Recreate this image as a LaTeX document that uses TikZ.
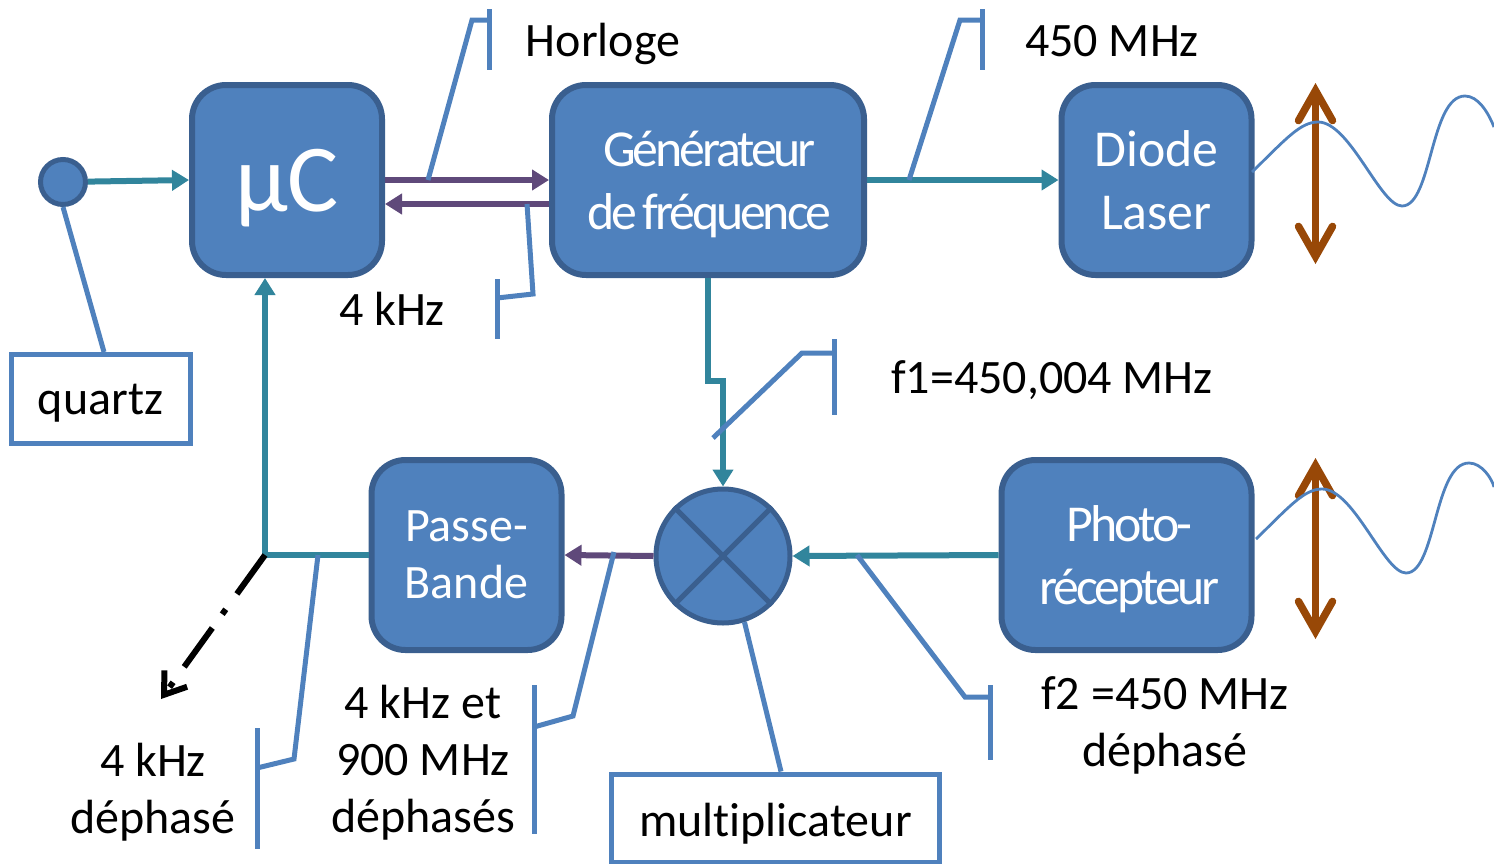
\documentclass[tikz,border=0pt]{standalone}
\usepackage{fontspec}
\setmainfont[Ligatures=NoCommon]{Carlito}
\newfontfamily\serre[LetterSpace=-6,WordSpace=0.6,Ligatures=NoCommon]{Carlito}
\usetikzlibrary{arrows.meta}
\usetikzlibrary{shapes}
\usetikzlibrary{positioning}
\definecolor{bleu}{HTML}{4F81BD}
\definecolor{bleuf}{HTML}{3A5F8F}
\definecolor{sarcelle}{HTML}{31859C}
\definecolor{violet}{HTML}{5F497A}
\definecolor{brun}{HTML}{984807}
\begin{document}
\begin{tikzpicture}[x=0.5pt,y=-0.5pt]
    \useasboundingbox (0,0) rectangle (1494,863);
    \tikzstyle{bloc}=[draw=bleuf,fill=bleu,line width=3pt,rounded corners=17pt,inner sep=0pt,text=white,align=center]
    \tikzstyle{boite}=[draw=bleu,fill=white,line width=2.5pt,inner sep=0pt,font=\fontsize{24pt}{28.5pt}\selectfont]
    \tikzstyle{texte}=[inner sep=0pt,align=center,font=\fontsize{24pt}{28.5pt}\selectfont]
    \tikzstyle{rond}=[circle,draw=bleuf,fill=bleu,line width=2.5pt,inner sep=0pt]
    \tikzstyle{liaison}=[color=sarcelle,line width=3pt,-{Triangle[length=8.5pt,width=10pt]}]
    \tikzstyle{bus}=[color=violet,line width=3pt,-{Triangle[length=8.5pt,width=10pt]}]
    \tikzstyle{renvoi}=[color=bleu,line width=2.5pt]
    \tikzstyle{lentille}=[color=brun,line width=3.75pt,{Straight Barb[length=15pt,width=17pt,line cap=round,line join=miter]}-{Straight Barb[length=15pt,width=17pt,line cap=round,line join=miter]}]
    \tikzstyle{onde}=[color=bleu,line width=1.4pt]

    \begin{scope}[minimum height=95pt]
      \node[bloc,minimum width=95pt,font=\fontsize{48pt}{50pt}\selectfont,text depth=-2pt] (uC)  at (287,180) {µC};
      \node[bloc,minimum width=156pt,font=\fontsize{25.9pt}{31.5pt}\serre,text depth=-1pt] (gen)  at (708,180) {\hspace*{1.5pt}Générateur\\\hspace*{1.5pt}de fréquence};
      \node[bloc,minimum width=95pt,font=\fontsize{25.9pt}{31.5pt}\selectfont] (laser)  at (1156.5,180) {Diode\\Laser};
      \node[bloc,minimum width=95pt,font=\fontsize{24pt}{28.5pt}\selectfont,text depth=-4pt] (filtre)  at (466.5,555) {Passe-\\Bande};
      \node[bloc,minimum width=125pt,font=\fontsize{25.9pt}{31.5pt}\serre,text depth=0pt] (photo)  at (1126.5,555) {\hspace*{3pt}Photo-\\\hspace*{3pt}récepteur};
    \end{scope}
    \node[rond,minimum size=22.5pt] (osc) at (63,182) {};
    \node[rond,minimum size=67pt] (mult) at (723,556) {};
    \draw[color=bleuf,line width=2.5pt] (mult.north west) -- (mult.south east);
    \draw[color=bleuf,line width=2.5pt] (mult.north east) -- (mult.south west);

    \node[boite,minimum width=89.5pt,minimum height=44.5pt,text depth=0pt] (quartz) at (100.5,399) {quartz};
    \node[boite,minimum width=164pt,minimum height=44pt,text height=22pt] (multi) at (775.5,818) {multiplicateur};

    \node[texte] (horloge) at (603,44) {Horloge};
    \node[texte] (f450) at (1112,41) {450 MHz};
    \node[texte] (f4) at (392,309) {4 kHz};
    \node[texte] (f1) at (1052,380) {f1=450,004 MHz};
    \node[texte] (f2) at (1165,725) {f2 =450 MHz\\déphasé};
    \node[texte] (somme) at (423,763) {4 kHz et\\900 MHz\\déphasés};
    \node[texte] (sortie) at (153,792) {4 kHz\\déphasé};

    \coordinate (coude) at (708,381);
    \coordinate (coude2) at (723,381);
    \coordinate (noeud) at (265,555);
    \coordinate (fin) at (161,699);

    \draw[liaison] (osc) -- (uC.west);
    \draw[bus] (uC.east) -- (gen.west);
    \draw[bus] ([yshift=-12pt]gen.west) -- ([yshift=-12pt]uC.east);
    \draw[liaison] (gen.east) -- (laser.west);
    \draw[liaison] (gen.south) -- (coude) -- (coude2) -- (mult.north);
    \draw[liaison] (photo.west) -- (mult.east);
    \draw[bus] (mult.west) -- (filtre.east);
    \draw[liaison] (filtre.west) -- (noeud) -- (uC.south -| noeud);
    \draw[line width=3pt,dash pattern=on 24pt off 9.5pt on 3pt off 8.5pt,-{Straight Barb[length=10pt,width=14pt]}] (noeud) -- (fin);

    \draw[lentille] (1315.5,83) -- (1315.5,264);
    \draw[lentille] (1315.5,458) -- (1315.5,639);
    \draw[onde] (1252,172) .. controls (1285,140) and (1300,122) .. (1318,122) .. controls (1350,122) and (1380,206) .. (1402,206) .. controls (1432,206) and (1430,96) .. (1465,96) .. controls (1478,96) and (1488,112) .. (1494,127);
    \draw[onde,shift={(4,367)}] (1252,172) .. controls (1285,140) and (1300,122) .. (1318,122) .. controls (1350,122) and (1380,206) .. (1402,206) .. controls (1432,206) and (1430,96) .. (1465,96) .. controls (1478,96) and (1488,112) .. (1490,120);

    \draw[renvoi] (osc.south) -- ([xshift=1.75pt]quartz.north);
    \draw[renvoi] (428,180) -- (472,20) -- (489,20);
    \draw[renvoi] (489,9) -- (489,70);
    \draw[renvoi] (527,204) -- (533,294) -- (497,298);
    \draw[renvoi] (497,279) -- (497,339);
    \draw[renvoi] (909,180) -- (960,20) -- (982,20);
    \draw[renvoi] (982,9) -- (982,70);
    \draw[renvoi] (713,438) -- (802,353) -- (834,353);
    \draw[renvoi] (834,339) -- (834,415);
    \draw[renvoi] (857,555) -- (965,697) -- (990,697);
    \draw[renvoi] (990,685) -- (990,760);
    \draw[renvoi] (mult.-72) -- ([xshift=2.75pt]multi.north);
    \draw[renvoi] (614,552) -- (573,716) -- (534,727);
    \draw[renvoi] (534,685) -- (534,834);
    \draw[renvoi] (318,555) -- (294,759) -- (257,768);
    \draw[renvoi] (257,728) -- (257,849);
  \end{tikzpicture}
\end{document}
